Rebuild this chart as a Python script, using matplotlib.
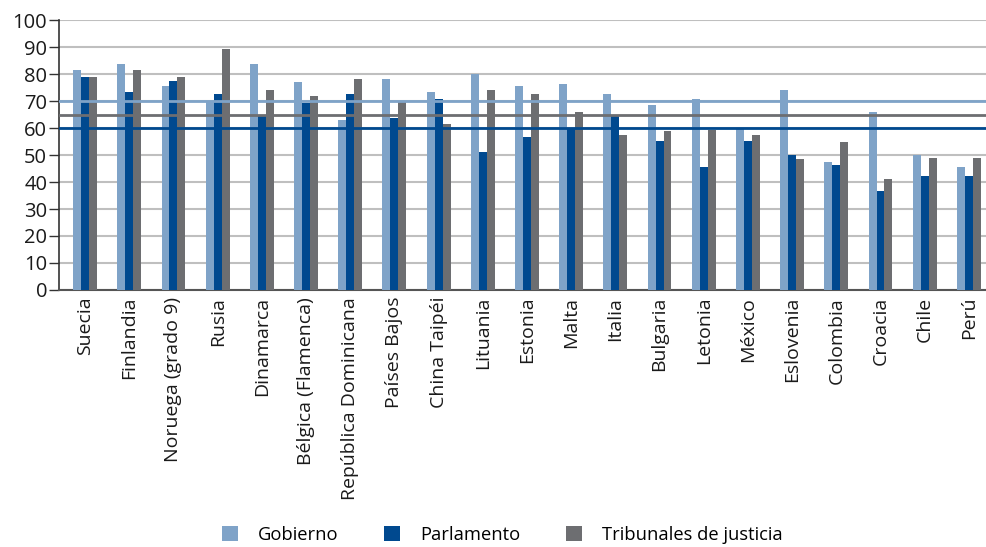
import matplotlib
matplotlib.use("Agg")
import matplotlib.pyplot as plt
import numpy as np

categories = ["Suecia", "Finlandia", "Noruega (grado 9)", "Rusia", "Dinamarca",
              "Bélgica (Flamenca)", "República Dominicana", "Países Bajos", "China Taipéi",
              "Lituania", "Estonia", "Malta", "Italia", "Bulgaria", "Letonia", "México",
              "Eslovenia", "Colombia", "Croacia", "Chile", "Perú"]
gobierno = [81.7, 83.7, 75.5, 69.6, 83.7, 77.0, 62.9, 78.1, 73.3, 80.0, 75.5,
            76.2, 72.5, 68.4, 70.7, 60.1, 74.0, 47.6, 65.8, 50.2, 45.4]
parlamento = [78.8, 73.3, 77.4, 72.5, 64.4, 69.3, 72.5, 63.6, 70.7, 51.0, 56.6,
              60.1, 64.4, 55.4, 45.4, 55.4, 50.2, 46.2, 36.5, 42.1, 42.1]
tribunales = [78.8, 81.7, 78.8, 89.2, 74.0, 71.8, 78.1, 69.6, 61.4, 74.0, 72.5,
              65.8, 57.3, 58.8, 59.4, 57.3, 48.4, 54.7, 41.3, 49.1, 49.1]
series_names = ["Gobierno", "Parlamento", "Tribunales de justicia"]
ref_values = [70, 65, 60]  # Gobierno, Tribunales, Parlamento averages
yticks = list(range(0, 101, 10))

c_gob = "#7FA3C8"
c_par = "#00498F"
c_tri = "#6D6E71"

plt.rcParams['font.family'] = ['Open Sans', 'DejaVu Sans']

fig = plt.figure(figsize=(9.87, 5.47), dpi=100)
ax = fig.add_axes([0.0598, 0.470, 0.9402, 0.493])

x = np.arange(len(categories))
w = 0.18
ax.bar(x - w, gobierno, w, color=c_gob, label=series_names[0], zorder=3)
ax.bar(x, parlamento, w, color=c_par, label=series_names[1], zorder=3)
ax.bar(x + w, tribunales, w, color=c_tri, label=series_names[2], zorder=3)

ax.axhline(ref_values[0], color=c_gob, lw=2.0, zorder=4)
ax.axhline(ref_values[1], color=c_tri, lw=2.0, zorder=4)
ax.axhline(ref_values[2], color=c_par, lw=2.0, zorder=4)

ax.set_xlim(-0.59, 20.41)
ax.set_ylim(0, 100)
ax.set_yticks(yticks)
ax.set_yticklabels([str(v) for v in yticks], fontsize=14.5, color="#1a1a1a")
ax.set_xticks(x)
ax.set_xticklabels(categories, rotation=90, fontsize=14, color="#1a1a1a")
ax.tick_params(axis='x', length=0, pad=5)
ax.tick_params(axis='y', length=7, width=1, color="#333333", pad=1.5)

ax.grid(axis='y', color="#BFBFBF", lw=1.5, zorder=0)
ax.set_axisbelow(True)
for s in ["top", "right"]:
    ax.spines[s].set_visible(False)
ax.spines["left"].set_color("#333333")
ax.spines["left"].set_linewidth(1.2)
ax.spines["bottom"].set_color("#555555")
ax.spines["bottom"].set_linewidth(1.5)

handles, labels = ax.get_legend_handles_labels()
fig.legend(handles, labels, loc="center left", bbox_to_anchor=(222 / 987, 1 - 535 / 547),
           ncol=3, frameon=False, fontsize=13.2, handlelength=0.87, handleheight=0.87,
           handletextpad=1.08, columnspacing=2.5, borderpad=0, borderaxespad=0)

fig.savefig("out.png", dpi=100)
